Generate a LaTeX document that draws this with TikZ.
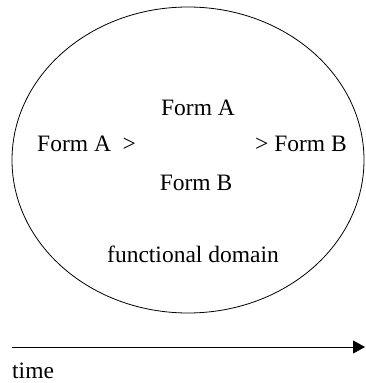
\documentclass[tikz,border=0pt]{standalone}
\usepackage{fontspec}
\setmainfont{Liberation Serif}
\usetikzlibrary{arrows.meta}
\begin{document}
\begin{tikzpicture}[x=1pt,y=1pt,
  lbl/.style={inner sep=0pt,font=\fontsize{23.5}{26}\selectfont},
  line/.style={line width=0.8pt}]
\useasboundingbox (0,0) rectangle (365,383);
\draw[line] (188,223) ellipse [x radius=176, y radius=153];
\node[lbl] (topA) at (198,275) {Form A};
\node[lbl,anchor=west] (leftA) at (37,239) {Form A \ >};
\node[lbl,anchor=east] (rightB) at (347,239) {> Form B};
\node[lbl] (botB) at (196,200) {Form B};
\node[lbl] (dom) at (193,129) {functional domain};
\coordinate (t0) at (12,36);
\coordinate (t1) at (365,36);
\draw[line,-{Triangle[length=12pt,width=13pt]}] (t0) -- (t1);
\node[lbl,anchor=west] (time) at (12,12) {time};
\end{tikzpicture}
\end{document}
